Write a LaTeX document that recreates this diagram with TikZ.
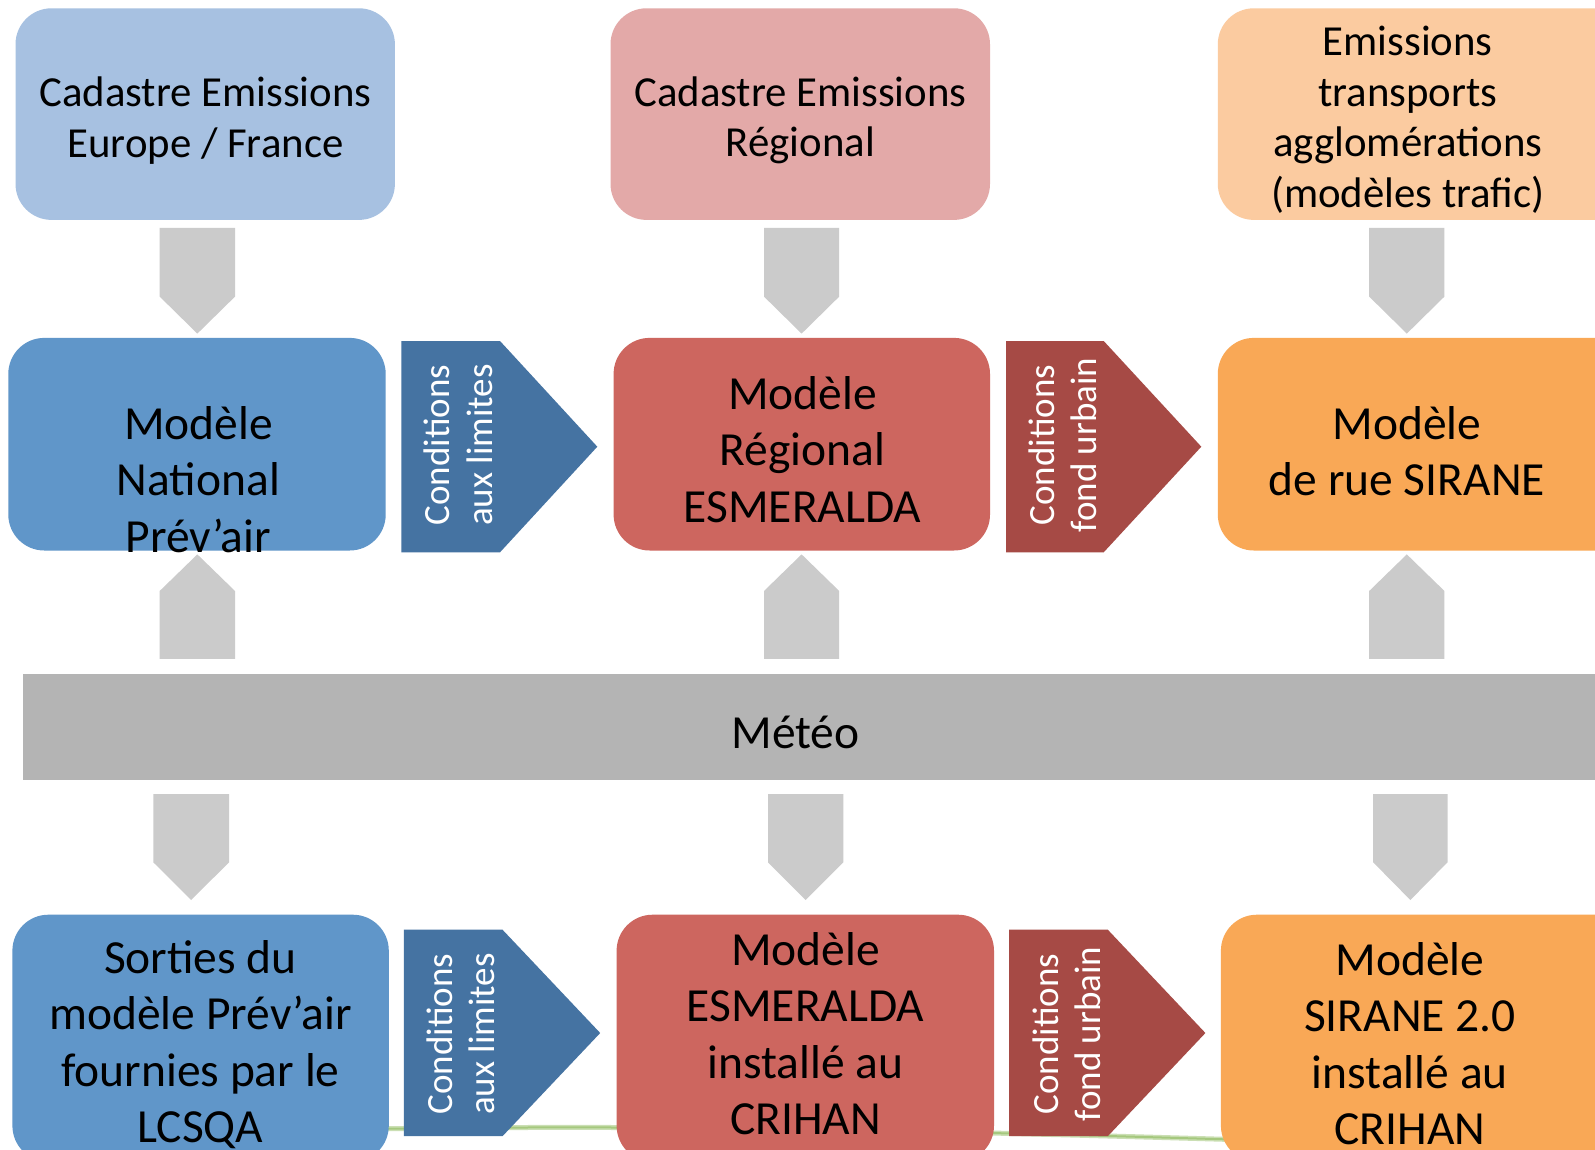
\documentclass[tikz,border=0pt]{standalone}
\usepackage{fontspec}
\setmainfont{Carlito}
\definecolor{cLightBlue}{HTML}{A7C1E1}
\definecolor{cPink}{HTML}{E3A9A8}
\definecolor{cPeach}{HTML}{FBCBA0}
\definecolor{cBlue}{HTML}{6096C9}
\definecolor{cRed}{HTML}{CD665F}
\definecolor{cOrange}{HTML}{F9A856}
\definecolor{cPentaBlue}{HTML}{4573A2}
\definecolor{cDarkRed}{HTML}{A64A45}
\definecolor{cArrow}{HTML}{CBCBCB}
\definecolor{cMeteo}{HTML}{B4B4B4}
\definecolor{cGreen}{HTML}{8DBA5A}
\begin{document}
\begin{tikzpicture}[x=1pt,y=-1pt,
  box/.style={rectangle,rounded corners=36pt,inner sep=0pt,anchor=north west},
  toptxt/.style={align=center,inner sep=0pt,font=\fontsize{42.8}{50.5}\selectfont},
  maintxt/.style={align=center,inner sep=0pt,font=\fontsize{47.5}{56.5}\selectfont},
  pentatxt/.style={align=center,inner sep=0pt,rotate=90,text=white,font=\fontsize{37}{42.5}\selectfont},
  grayarrow/.style={fill=cArrow}]
\useasboundingbox (0,0) rectangle (1595,1150);
\clip (0,0) rectangle (1595,1150);
\fill[white] (0,0) rectangle (1595,1150);
% faint green background swoosh
\draw[cGreen,line width=5pt,opacity=0.45,line cap=round]
  (370,1129) .. controls (800,1122) and (1200,1140) .. (1600,1150);
\draw[cGreen,line width=2pt,opacity=0.6,line cap=round]
  (370,1129) .. controls (800,1122) and (1200,1140) .. (1600,1150);
% top row boxes
\node[box,fill=cLightBlue,minimum width=379.4pt,minimum height=211.6pt] (eu) at (15.3,8.1) {};
\node[box,fill=cPink,minimum width=379.5pt,minimum height=211.6pt] (reg) at (610.3,8.1) {};
\node[box,fill=cPeach,minimum width=420pt,minimum height=211.6pt] (trans) at (1217.6,8.1) {};
\node[toptxt] (eutxt) at (205.5,120.5) {Cadastre Emissions\\Europe / France};
\node[toptxt] (regtxt) at (800.5,120.5) {Cadastre Emissions\\Régional};
\node[toptxt] (transtxt) at (1407.8,119.5) {Emissions\\transports\\agglomérations\\(modèles trafic)};
% top down arrows
\foreach \L/\R in {159.7/235, 764/839.2, 1369.2/1444.4}{
  \fill[grayarrow] (\L,227.9) -- (\R,227.9) -- (\R,296.6) -- ({(\L+\R)/2},333.6) -- (\L,296.6) -- cycle;
}
% middle row boxes
\node[box,fill=cBlue,minimum width=377.4pt,minimum height=212.6pt] (nat) at (8.1,337.7) {};
\node[box,fill=cRed,minimum width=376.4pt,minimum height=212.6pt] (esm) at (613.4,337.7) {};
\node[box,fill=cOrange,minimum width=420pt,minimum height=212.6pt] (sir) at (1217.6,337.7) {};
\node[maintxt] (nattxt) at (198.4,479.6) {Modèle\\National\\Prév’air};
\node[maintxt] (esmtxt) at (802.6,449.6) {Modèle\\Régional\\ESMERALDA};
\node[maintxt] (sirtxt) at (1406.8,451.2) {Modèle\\de rue SIRANE};
% middle pentagons
\fill[cPentaBlue] (401.3,341) -- (500,341) -- (597.3,446.7) -- (500,552.3) -- (401.3,552.3) -- cycle;
\node[pentatxt] (cl1) at (458.3,445) {Conditions\\aux limites};
\fill[cDarkRed] (1006,341) -- (1103.7,341) -- (1201.3,446.7) -- (1103.7,552.3) -- (1006,552.3) -- cycle;
\node[pentatxt] (cf1) at (1063,445) {Conditions\\fond urbain};
% up arrows
\foreach \L/\R in {159.7/235, 764/839.2, 1369.2/1444.4}{
  \fill[grayarrow] (\L,658.9) -- (\R,658.9) -- (\R,591) -- ({(\L+\R)/2},554.4) -- (\L,591) -- cycle;
}
% meteo bar
\node[rectangle,fill=cMeteo,inner sep=0pt,anchor=north west,minimum width=1600pt,minimum height=105.6pt] (meteo) at (22.6,674) {};
\node[maintxt] (meteotxt) at (795.5,732.4) {Météo};
% lower down arrows
\foreach \L/\R in {153.3/229, 768/843.3, 1373.2/1447.5}{
  \fill[grayarrow] (\L,794) -- (\R,794) -- (\R,862.3) -- ({(\L+\R)/2},900) -- (\L,862.3) -- cycle;
}
% bottom row boxes
\node[box,fill=cBlue,minimum width=376.4pt,minimum height=247pt] (lcs) at (12.2,914.5) {};
\node[box,fill=cRed,minimum width=377.4pt,minimum height=247pt] (cri) at (616.4,914.5) {};
\node[box,fill=cOrange,minimum width=420pt,minimum height=247pt] (sir2) at (1220.7,914.5) {};
\node[maintxt] (lcstxt) at (200.4,1044.6) {Sorties du\\modèle Prév’air\\fournies par le\\LCSQA};
\node[maintxt] (critxt) at (805.6,1033.5) {Modèle\\ESMERALDA\\installé au\\CRIHAN};
\node[maintxt] (sir2txt) at (1409.9,1043.6) {Modèle\\SIRANE 2.0\\installé au\\CRIHAN};
% bottom pentagons
\fill[cPentaBlue] (403.8,929.7) -- (502.5,929.7) -- (600.2,1033) -- (502.5,1136.2) -- (403.8,1136.2) -- cycle;
\node[pentatxt] (cl2) at (460.8,1034) {Conditions\\aux limites};
\fill[cDarkRed] (1009,929.7) -- (1107.8,929.7) -- (1205.4,1033) -- (1107.8,1136.2) -- (1009,1136.2) -- cycle;
\node[pentatxt] (cf2) at (1066.6,1034) {Conditions\\fond urbain};
\end{tikzpicture}
\end{document}
